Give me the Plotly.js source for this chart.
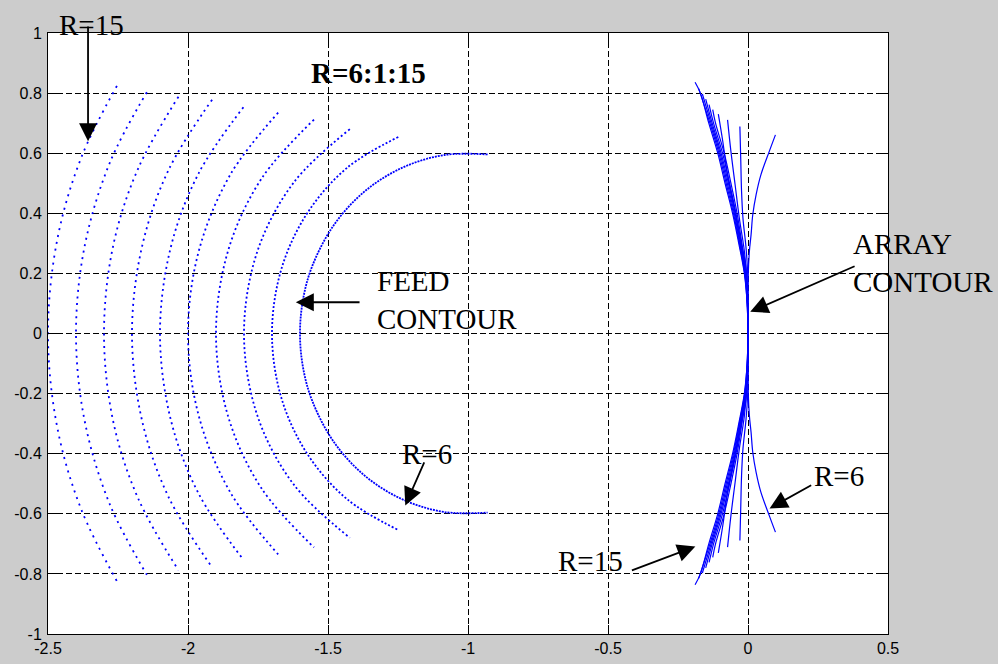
<!DOCTYPE html>
<html>
<head>
<meta charset="utf-8">
<script src="https://cdn.plot.ly/plotly-3.0.1.min.js"></script>
<style>html,body{margin:0;padding:0;background:#cccccc;}#chart{width:998px;height:664px;}</style>
</head>
<body>
<div id="chart"></div>
<script>
// ---- Feed contours (R = 6:1:15) ----
const feedR6x  = [-0.930,-1.084,-1.234,-1.369,-1.479,-1.556,-1.589,-1.600,-1.589,-1.556,-1.479,-1.369,-1.234,-1.084,-0.930];
const feedR6y  = [0.596,0.594,0.552,0.473,0.361,0.225,0.114,0,-0.114,-0.225,-0.361,-0.473,-0.552,-0.594,-0.596];
const feedR7x  = [-1.249,-1.431,-1.573,-1.666,-1.700,-1.666,-1.573,-1.431,-1.249];
const feedR7y  = [0.654,0.552,0.402,0.216,0,-0.216,-0.402,-0.552,-0.654];
const feedR8x  = [-1.422,-1.622,-1.752,-1.800,-1.752,-1.622,-1.422];
const feedR8y  = [0.680,0.503,0.274,0,-0.274,-0.503,-0.680];
const feedR9x  = [-1.550,-1.737,-1.856,-1.900,-1.856,-1.737,-1.550];
const feedR9y  = [0.712,0.516,0.278,0,-0.278,-0.516,-0.712];
const feedR10x = [-1.678,-1.848,-1.961,-2.000,-1.961,-1.848,-1.678];
const feedR10y = [0.735,0.530,0.276,0,-0.276,-0.530,-0.735];
const feedR11x = [-1.802,-1.962,-2.062,-2.100,-2.062,-1.962,-1.802];
const feedR11y = [0.753,0.533,0.285,0,-0.285,-0.533,-0.753];
const feedR12x = [-1.914,-2.069,-2.164,-2.200,-2.164,-2.069,-1.914];
const feedR12y = [0.778,0.545,0.290,0,-0.290,-0.545,-0.778];
const feedR13x = [-2.034,-2.178,-2.267,-2.300,-2.267,-2.178,-2.034];
const feedR13y = [0.788,0.549,0.293,0,-0.293,-0.549,-0.788];
const feedR14x = [-2.147,-2.279,-2.369,-2.400,-2.369,-2.279,-2.147];
const feedR14y = [0.803,0.569,0.291,0,-0.291,-0.569,-0.803];
const feedR15x = [-2.254,-2.381,-2.467,-2.500,-2.467,-2.381,-2.254];
const feedR15y = [0.824,0.586,0.312,0,-0.312,-0.586,-0.824];

// ---- Array contours (R = 6:1:15) ----
const arrR6x  = [0.098,0.076,0.046,0.029,0.017,0.011,0.005,0.001,0,0.001,0.005,0.011,0.017,0.029,0.046,0.076,0.098];
const arrR6y  = [0.661,0.606,0.528,0.462,0.395,0.329,0.274,0.2,0,-0.2,-0.274,-0.329,-0.395,-0.462,-0.528,-0.606,-0.661];
const arrR7x  = [-0.029,-0.026,-0.023,-0.018,-0.007,-0.001,0,-0.001,-0.007,-0.018,-0.023,-0.026,-0.029];
const arrR7y  = [0.689,0.584,0.473,0.384,0.285,0.196,0,-0.196,-0.285,-0.384,-0.473,-0.584,-0.689];
const arrR8x  = [-0.073,-0.061,-0.046,-0.031,-0.013,-0.002,0,-0.002,-0.013,-0.031,-0.046,-0.061,-0.073];
const arrR8y  = [0.711,0.606,0.495,0.384,0.274,0.15,0,-0.15,-0.274,-0.384,-0.495,-0.606,-0.711];
const arrR9x  = [-0.106,-0.090,-0.073,-0.049,-0.025,-0.007,-0.001,0,-0.001,-0.007,-0.025,-0.049,-0.073,-0.090,-0.106];
const arrR9y  = [0.730,0.639,0.528,0.418,0.307,0.218,0.1,0,-0.1,-0.218,-0.307,-0.418,-0.528,-0.639,-0.730];
const arrR10x = [-0.126,-0.116,-0.085,-0.061,-0.039,-0.022,-0.008,-0.001,0,-0.001,-0.008,-0.022,-0.039,-0.061,-0.085,-0.116,-0.126];
const arrR10y = [0.745,0.7,0.6,0.5,0.4,0.3,0.2,0.1,0,-0.1,-0.2,-0.3,-0.4,-0.5,-0.6,-0.7,-0.745];
const arrR11x = [-0.139,-0.123,-0.091,-0.066,-0.043,-0.025,-0.009,-0.002,0,-0.002,-0.009,-0.025,-0.043,-0.066,-0.091,-0.123,-0.139];
const arrR11y = [0.762,0.7,0.6,0.5,0.4,0.3,0.2,0.1,0,-0.1,-0.2,-0.3,-0.4,-0.5,-0.6,-0.7,-0.762];
const arrR12x = [-0.151,-0.128,-0.096,-0.070,-0.046,-0.027,-0.010,-0.002,0,-0.002,-0.010,-0.027,-0.046,-0.070,-0.096,-0.128,-0.151];
const arrR12y = [0.78,0.7,0.6,0.5,0.4,0.3,0.2,0.1,0,-0.1,-0.2,-0.3,-0.4,-0.5,-0.6,-0.7,-0.78];
const arrR13x = [-0.163,-0.132,-0.100,-0.074,-0.049,-0.029,-0.011,-0.002,0,-0.002,-0.011,-0.029,-0.049,-0.074,-0.100,-0.132,-0.163];
const arrR13y = [0.797,0.7,0.6,0.5,0.4,0.3,0.2,0.1,0,-0.1,-0.2,-0.3,-0.4,-0.5,-0.6,-0.7,-0.797];
const arrR14x = [-0.176,-0.136,-0.104,-0.078,-0.052,-0.031,-0.012,-0.003,0,-0.003,-0.012,-0.031,-0.052,-0.078,-0.104,-0.136,-0.176];
const arrR14y = [0.815,0.7,0.6,0.5,0.4,0.3,0.2,0.1,0,-0.1,-0.2,-0.3,-0.4,-0.5,-0.6,-0.7,-0.815];
const arrR15x = [-0.189,-0.170,-0.140,-0.108,-0.082,-0.055,-0.033,-0.013,-0.003,0,-0.003,-0.013,-0.033,-0.055,-0.082,-0.108,-0.140,-0.170,-0.189];
const arrR15y = [0.836,0.8,0.7,0.6,0.5,0.4,0.3,0.2,0.1,0,-0.1,-0.2,-0.3,-0.4,-0.5,-0.6,-0.7,-0.8,-0.836];

// ---- Axis ticks ----
const xTickVals = [-2.5,-2,-1.5,-1,-0.5,0,0.5];
const xTickText = ['-2.5','-2','-1.5','-1','-0.5','0','0.5'];
const yTickVals = [-1,-0.8,-0.6,-0.4,-0.2,0,0.2,0.4,0.6,0.8,1];
const yTickText = ['-1','-0.8','-0.6','-0.4','-0.2','0','0.2','0.4','0.6','0.8','1'];

const BLUE = '#0000ff';
const feedSets = [
  [feedR6x, feedR6y, '2px,1px'], [feedR7x, feedR7y, '2px,2px'], [feedR8x, feedR8y, '2px,2.6px'],
  [feedR9x, feedR9y, '2px,3px'], [feedR10x, feedR10y, '2px,3.3px'], [feedR11x, feedR11y, '2px,3.6px'],
  [feedR12x, feedR12y, '2px,4px'], [feedR13x, feedR13y, '2px,4.3px'], [feedR14x, feedR14y, '2px,4.6px'],
  [feedR15x, feedR15y, '2px,5px']
];
const arrSets = [
  [arrR6x, arrR6y], [arrR7x, arrR7y], [arrR8x, arrR8y], [arrR9x, arrR9y], [arrR10x, arrR10y],
  [arrR11x, arrR11y], [arrR12x, arrR12y], [arrR13x, arrR13y], [arrR14x, arrR14y], [arrR15x, arrR15y]
];

const traces = [];
feedSets.forEach(s => traces.push({
  x: s[0], y: s[1], type: 'scatter', mode: 'lines', hoverinfo: 'skip',
  line: {color: BLUE, width: 1.8, dash: s[2], shape: 'spline', smoothing: 1}
}));
arrSets.forEach(s => traces.push({
  x: s[0], y: s[1], type: 'scatter', mode: 'lines', hoverinfo: 'skip',
  line: {color: BLUE, width: 1.2, shape: 'spline', smoothing: 1}
}));

const serif = {family: 'Liberation Serif, Times New Roman, serif', size: 29, color: '#000'};
function txt(x, y, text, xanchor, yref) {
  return {x: x, y: y, xref: 'x', yref: yref || 'y', text: text, showarrow: false, font: serif,
          xanchor: xanchor || 'center', yanchor: 'middle', align: 'left'};
}
function arrow(tx, ty, sx, sy) {
  return {x: tx, y: ty, ax: sx, ay: sy, xref: 'x', yref: 'y', axref: 'x', ayref: 'y', text: '',
          showarrow: true, arrowhead: 2, arrowsize: 2, arrowwidth: 1.8, arrowcolor: '#000', standoff: 0};
}

const axisCommon = {
  showgrid: true, gridcolor: '#000', gridwidth: 1, griddash: '6px,3px',
  zeroline: false, showline: true, linecolor: '#000', linewidth: 1, mirror: 'ticks',
  ticks: 'inside', ticklen: 9, tickwidth: 1, tickcolor: '#000',
  tickfont: {family: 'Liberation Sans, Arial, sans-serif', size: 16, color: '#000'},
  tickmode: 'array', fixedrange: true
};

const layout = {
  width: 998, height: 664,
  margin: {l: 48, r: 110, t: 33, b: 30, pad: 0},
  paper_bgcolor: '#cccccc', plot_bgcolor: '#ffffff',
  showlegend: false,
  xaxis: Object.assign({}, axisCommon, {range: [-2.5, 0.5], tickvals: xTickVals, ticktext: xTickText}),
  yaxis: Object.assign({}, axisCommon, {range: [-1, 1], tickvals: yTickVals, ticktext: yTickText, ticklabelstandoff: 2}),
  annotations: [
    txt(-2.343, 1.0125, 'R=15', 'center', 'paper'),
    txt(-1.355, 0.867, '<b>R=6:1:15</b>'),
    txt(-1.332, 0.110, 'FEED<br>CONTOUR', 'left'),
    txt(-1.146, -0.402, 'R=6'),
    txt(0.368, 0.233, 'ARRAY<br>CONTOUR', 'left'),
    txt(0.325, -0.474, 'R=6'),
    txt(-0.564, -0.756, 'R=15'),
    arrow(-2.357, 0.640, -2.357, 1.027),
    arrow(-1.615, 0.104, -1.382, 0.104),
    arrow(-1.224, -0.572, -1.154, -0.424),
    arrow(0.008, 0.072, 0.386, 0.226),
    arrow(0.077, -0.582, 0.231, -0.502),
    arrow(-0.188, -0.709, -0.420, -0.790)
  ]
};

Plotly.newPlot('chart', traces, layout, {displayModeBar: false, staticPlot: true});
</script>
</body>
</html>
